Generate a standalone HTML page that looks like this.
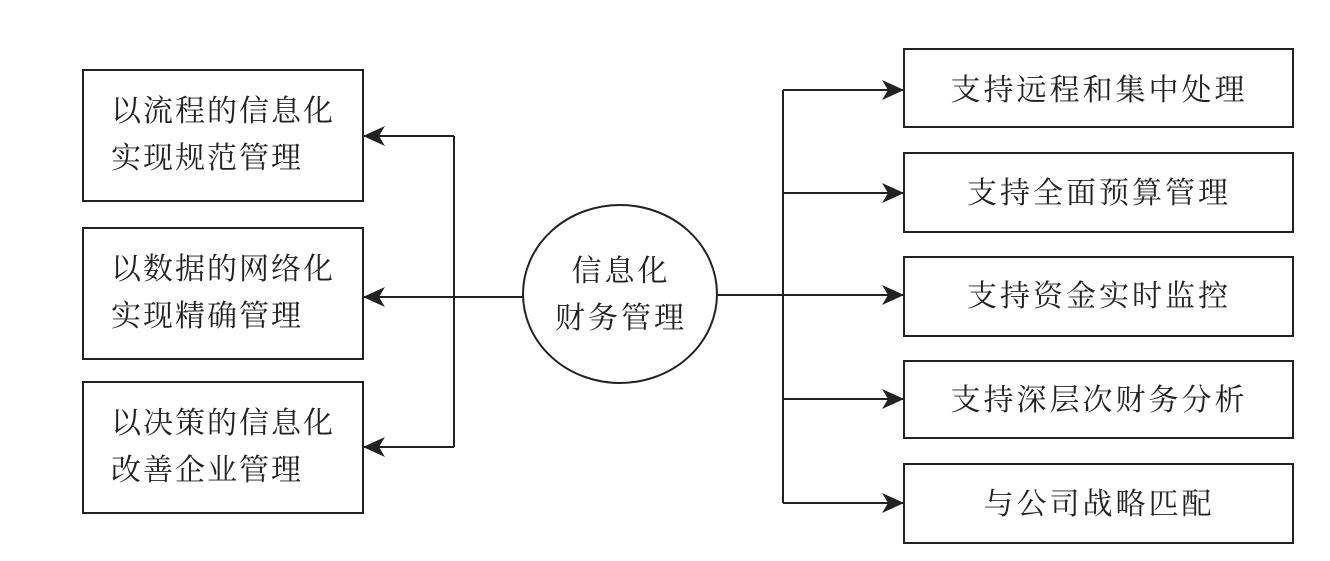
<!DOCTYPE html>
<html><head><meta charset="utf-8"><style>
html,body{margin:0;padding:0;background:#fff;}
svg{display:block;}
text{font-family:"Liberation Serif","Noto Serif CJK SC","Noto Sans CJK SC",serif;font-size:30px;fill:#222;}
</style></head><body>
<svg width="1330" height="561" viewBox="0 0 1330 561" xmlns="http://www.w3.org/2000/svg">
<defs>
<marker id="a" markerWidth="22" markerHeight="22" refX="21" refY="11" orient="auto" markerUnits="userSpaceOnUse" viewBox="0 0 22 22">
<path d="M0,1 L22,11 L0,21 L6,11 Z" fill="#222"/>
</marker>
</defs>
<g fill="none" stroke="#222" stroke-width="2">
<rect x="83" y="70" width="280" height="131"/>
<rect x="83" y="228" width="280" height="131"/>
<rect x="83" y="382" width="280" height="131"/>
<rect x="904" y="49" width="389" height="78"/>
<rect x="904" y="153" width="389" height="79"/>
<rect x="904" y="257" width="389" height="79"/>
<rect x="904" y="361" width="389" height="77"/>
<rect x="904" y="464" width="389" height="79"/>
<ellipse cx="620" cy="294" rx="97" ry="89"/>
<polyline points="523,297 454,297"/>
<polyline points="454,136 454,447"/>
<line x1="454" y1="136" x2="364" y2="136" marker-end="url(#a)"/>
<line x1="454" y1="297" x2="364" y2="297" marker-end="url(#a)"/>
<line x1="454" y1="447" x2="364" y2="447" marker-end="url(#a)"/>
<line x1="717" y1="295" x2="783" y2="295"/>
<line x1="783" y1="90" x2="783" y2="503"/>
<line x1="783" y1="90" x2="903" y2="90" marker-end="url(#a)"/>
<line x1="783" y1="193" x2="903" y2="193" marker-end="url(#a)"/>
<line x1="783" y1="295" x2="903" y2="295" marker-end="url(#a)"/>
<line x1="783" y1="399" x2="903" y2="399" marker-end="url(#a)"/>
<line x1="783" y1="503" x2="903" y2="503" marker-end="url(#a)"/>
</g>
<g letter-spacing="2">
<text x="111" y="121">以流程的信息化</text>
<text x="111" y="168">实现规范管理</text>
<text x="111" y="279">以数据的网络化</text>
<text x="111" y="326">实现精确管理</text>
<text x="111" y="433">以决策的信息化</text>
<text x="111" y="480">改善企业管理</text>
</g>
<g text-anchor="middle" letter-spacing="3">
<text x="621" y="281">信息化</text>
<text x="621" y="328">财务管理</text>
<text x="1099" y="100">支持远程和集中处理</text>
<text x="1099" y="203">支持全面预算管理</text>
<text x="1099" y="306">支持资金实时监控</text>
<text x="1099" y="410">支持深层次财务分析</text>
<text x="1099" y="514">与公司战略匹配</text>
</g>
</svg>
</body></html>
